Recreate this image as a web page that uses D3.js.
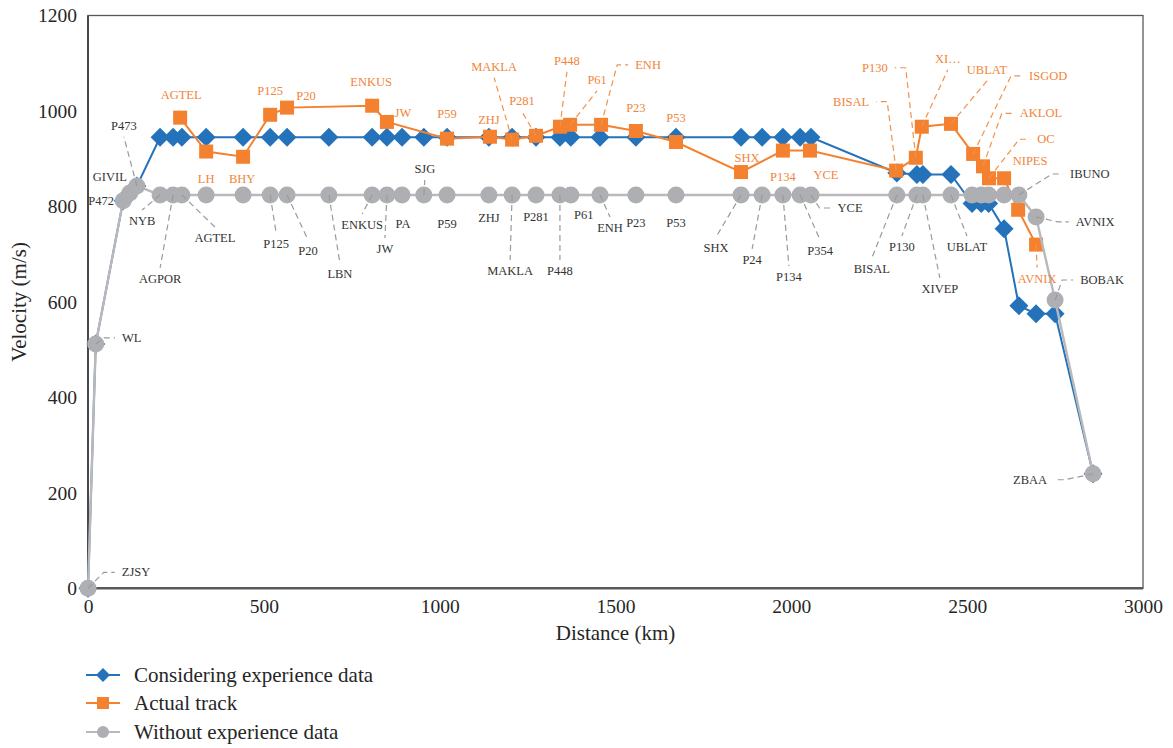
<!DOCTYPE html>
<html>
<head>
<meta charset="utf-8">
<script src="https://cdn.jsdelivr.net/npm/d3@7"></script>
<style>
  body { margin: 0; background: #fff; }
  svg { display: block; }
  text { font-family: "Liberation Serif", "DejaVu Serif", serif; }
</style>
</head>
<body>
<svg id="chart" width="1173" height="748"></svg>
<script>
// ---- Route waypoints shared by the two simulated speed profiles ----
const waypoints = ["ZJSY","WL","P472","GIVIL","P473","NYB","AGPOR","AGTEL","LH","BHY",
  "P125","P20","LBN","ENKUS","JW","PA","SJG","P59","ZHJ","MAKLA",
  "P281","P448","P61","ENH","P23","P53","SHX","P24","P134","P354",
  "YCE","BISAL","P130","XIVEP","UBLAT","ISGOD","AKLOL","OC","NIPES","IBUNO",
  "AVNIX","BOBAK","ZBAA"];
const waypointDistance = [0,22,100,119,139,205,242,267,336,441,
  518,566,685,808,850,893,955,1021,1140,1206,
  1274,1342,1373,1456,1558,1672,1857,1917,1976,2025,
  2056,2300,2357,2374,2454,2514,2540,2561,2605,2647,
  2696,2750,2858];
const velocityWithExperience = [0,512,812,828,843,945,945,945,945,945,
  945,945,945,945,945,945,945,945,945,945,
  945,945,945,945,945,945,945,945,945,945,
  945,870,867,867,867,806,806,806,753,592,
  575,575,240];
const velocityWithoutExperience = [0,512,812,828,843,824,824,824,824,824,
  824,824,824,824,824,824,824,824,824,824,
  824,824,824,824,824,824,824,824,824,824,
  824,824,824,824,824,824,824,824,824,824,
  778,604,240];

// ---- Actual flown track ----
const actualNames = ["AGTEL","LH","BHY","P125","P20","ENKUS","JW","P59","ZHJ","MAKLA",
  "P281","P448","P61","ENH","P23","P53","SHX","P134","YCE","BISAL",
  "P130","XI…","UBLAT","ISGOD","AKLOL","OC","NIPES","","AVNIX"];
const actualDistance = [262,336,441,518,566,808,850,1021,1143,1206,
  1274,1342,1371,1459,1558,1672,1857,1976,2053,2298,
  2354,2371,2454,2517,2545,2562,2605,2645,2696];
const actualVelocity = [986,915,904,992,1007,1011,977,942,946,940,
  948,967,971,971,958,935,872,917,917,875,
  902,967,973,910,884,859,859,793,720];

// ---- Axis ticks ----
const xTicks = [0,500,1000,1500,2000,2500,3000];
const yTicks = [0,200,400,600,800,1000,1200];

// ---- Series names ----
const seriesNames = ["Considering experience data","Actual track","Without experience data"];

// Data-label placement: offset of the label centre from its point (px) and leader style
const grayLabelLayout = [
  [48,-16,"side"],[36,-6,"side"],[-22,0,null],[-20,-16,null],[-13,-60,"vert"],
  [-18,26,"vert"],[-13,84,"vert"],[33,43,"vert"],null,null,
  [6,49,"vert"],[21,56,"vert"],[11,79,"vert"],[-10,30,"vert"],[-2,54,"vert"],
  [1,29,null],[1,-26,"vert"],[0,29,null],[0,23,null],[-2,76,"vert"],
  [0,22,null],[0,76,"vert"],[13,20,null],[10,33,"vert"],[0,28,null],
  [0,28,null],[-25,53,"vert"],[-10,65,"vert"],[6,82,"vert"],[20,56,"vert"],
  [39,13,"side"],[-25,74,"vert"],[-15,52,"vert"],[17,94,"vert"],[16,52,"vert"],
  null,null,null,null,[71,-21,"side"],
  [59,5,"side"],[47,-20,"side"],[-63,6,"side"]
];
const orangeLabelLayout = [
  [1,-23,null],[0,27,null],[-1,22,null],[0,-24,null],[19,-12,null],
  [-1,-24,null],[16,-9,null],[0,-25,null],[-1,-17,null],[-18,-73,"vert"],
  [-14,-35,"vert"],[7,-66,"vert"],[27,-45,"vert"],[47,-60,"side"],[0,-23,null],
  [0,-24,null],[6,-14,null],[0,26,null],[16,24,null],[-45,-69,"side"],
  [-41,-90,"side"],[26,-68,"vert"],[36,-54,"vert"],[75,-78,"side"],[58,-53,"side"],
  [57,-39,"side"],[26,-17,null],null,[1,34,"vert"]
];

const colors = { blue: "#2472BA", orange: "#F4812F", gray: "#AEAFB2", grayLine: "#B9B9BC" };

const svg = d3.select("#chart");
const x = d3.scaleLinear().domain([0, 3000]).range([88, 1143]);
const y = d3.scaleLinear().domain([0, 1200]).range([588.3, 15.5]);

// ---- Plot frame ----
svg.append("rect")
  .attr("x", x(0)).attr("y", y(1200))
  .attr("width", x(3000) - x(0)).attr("height", y(0) - y(1200))
  .attr("fill", "none").attr("stroke", "#595959").attr("stroke-width", 1.3);
svg.append("line").attr("x1", x(0)).attr("x2", x(0)).attr("y1", y(1200)).attr("y2", y(0))
  .attr("stroke", "#404040").attr("stroke-width", 1.8);
svg.append("line").attr("x1", x(0)).attr("x2", x(3000)).attr("y1", y(0)).attr("y2", y(0))
  .attr("stroke", "#595959").attr("stroke-width", 2.6);

// ---- Axes ----
const yAxis = svg.append("g").attr("transform", `translate(${x(0)},0)`)
  .call(d3.axisLeft(y).tickValues(yTicks).tickSize(0).tickPadding(11).tickFormat(d3.format("d")));
const xAxis = svg.append("g").attr("transform", `translate(0,${y(0)})`)
  .call(d3.axisBottom(x).tickValues(xTicks).tickSize(0).tickPadding(11).tickFormat(d3.format("d")));
[yAxis, xAxis].forEach(a => {
  a.attr("font-family", null);
  a.select(".domain").remove();
  a.selectAll("text").style("font-family", '"Liberation Serif", serif')
    .style("font-size", "19.5px").attr("fill", "#262626");
});

svg.append("text").attr("transform", `translate(19,${(y(0) + y(1200)) / 2}) rotate(-90)`)
  .attr("text-anchor", "middle").attr("dominant-baseline", "central")
  .style("font-size", "21px").attr("fill", "#262626").text("Velocity (m/s)");
svg.append("text").attr("x", (x(0) + x(3000)) / 2).attr("y", 633)
  .attr("text-anchor", "middle").attr("dominant-baseline", "central")
  .style("font-size", "21px").attr("fill", "#262626").text("Distance (km)");

// ---- Series ----
const line = d3.line().x(d => x(d[0])).y(d => y(d[1]));
const blueData = waypointDistance.map((d, i) => [d, velocityWithExperience[i]]);
const grayData = waypointDistance.map((d, i) => [d, velocityWithoutExperience[i]]);
const orangeData = actualDistance.map((d, i) => [d, actualVelocity[i]]);

const diamond = s => `M0,${-s}L${s},0L0,${s}L${-s},0Z`;

// considering experience data
svg.append("path").datum(blueData).attr("d", line)
  .attr("fill", "none").attr("stroke", colors.blue).attr("stroke-width", 2);
svg.append("g").selectAll("path").data(blueData).join("path")
  .attr("transform", d => `translate(${x(d[0])},${y(d[1])})`)
  .attr("d", diamond(9.5)).attr("fill", colors.blue);

// actual track
svg.append("path").datum(orangeData).attr("d", line)
  .attr("fill", "none").attr("stroke", colors.orange).attr("stroke-width", 2);
svg.append("g").selectAll("rect").data(orangeData).join("rect")
  .attr("x", d => x(d[0]) - 7).attr("y", d => y(d[1]) - 7)
  .attr("width", 14).attr("height", 14).attr("fill", colors.orange);

// without experience data
svg.append("path").datum(grayData).attr("d", line)
  .attr("fill", "none").attr("stroke", colors.grayLine).attr("stroke-width", 2.4);
svg.append("g").selectAll("circle").data(grayData).join("circle")
  .attr("cx", d => x(d[0])).attr("cy", d => y(d[1])).attr("r", 8.5)
  .attr("fill", colors.gray);

// ---- Data labels with leader lines ----
const leaderLayer = svg.append("g");
const labelLayer = svg.append("g");

function drawLabels(names, xs, vs, layout, textColor, leaderColor) {
  names.forEach((name, i) => {
    const L = layout[i];
    if (!name || !L) return;
    const px = x(xs[i]), py = y(vs[i]);
    const cx = px + L[0], cy = py + L[1];
    const t = labelLayer.append("text")
      .attr("x", cx).attr("y", cy)
      .attr("text-anchor", "middle").attr("dominant-baseline", "central")
      .style("font-size", "12.5px").attr("fill", textColor).text(name);
    const w = t.node().getComputedTextLength();
    let pts = null;
    if (L[2] === "side") {
      const s = L[0] > 0 ? 1 : -1;
      const edge = cx - s * w / 2;
      pts = [[px, py], [edge - s * 18, cy], [edge - s * 7, cy]];
    } else if (L[2] === "vert") {
      const s = L[1] > 0 ? 1 : -1;
      pts = [[px, py], [cx, cy - s * 11]];
    }
    if (pts) {
      leaderLayer.append("path").attr("d", d3.line()(pts))
        .attr("fill", "none").attr("stroke", leaderColor)
        .attr("stroke-width", 1.2).attr("stroke-dasharray", "6,4");
    }
  });
}
drawLabels(waypoints, waypointDistance, velocityWithoutExperience, grayLabelLayout, "#333333", "#9a9a9a");
drawLabels(actualNames, actualDistance, actualVelocity, orangeLabelLayout, "#F3843A", "#F4914A");

// ---- Legend ----
const legend = svg.append("g");
const legendY = [675, 703, 732];
const legendColors = [colors.blue, colors.orange, colors.grayLine];
seriesNames.forEach((name, i) => {
  const g = legend.append("g").attr("transform", `translate(0,${legendY[i]})`);
  g.append("line").attr("x1", 86).attr("x2", 120).attr("y1", 0).attr("y2", 0)
    .attr("stroke", legendColors[i]).attr("stroke-width", 2);
  if (i === 0) g.append("path").attr("transform", "translate(103,0)").attr("d", diamond(7)).attr("fill", colors.blue);
  if (i === 1) g.append("rect").attr("x", 97).attr("y", -6).attr("width", 12).attr("height", 12).attr("fill", colors.orange);
  if (i === 2) g.append("circle").attr("cx", 103).attr("cy", 0).attr("r", 6).attr("fill", colors.gray);
  g.append("text").attr("x", 134).attr("y", 0).attr("dominant-baseline", "central")
    .style("font-size", "21px").attr("fill", "#262626").text(name);
});
</script>
</body>
</html>
